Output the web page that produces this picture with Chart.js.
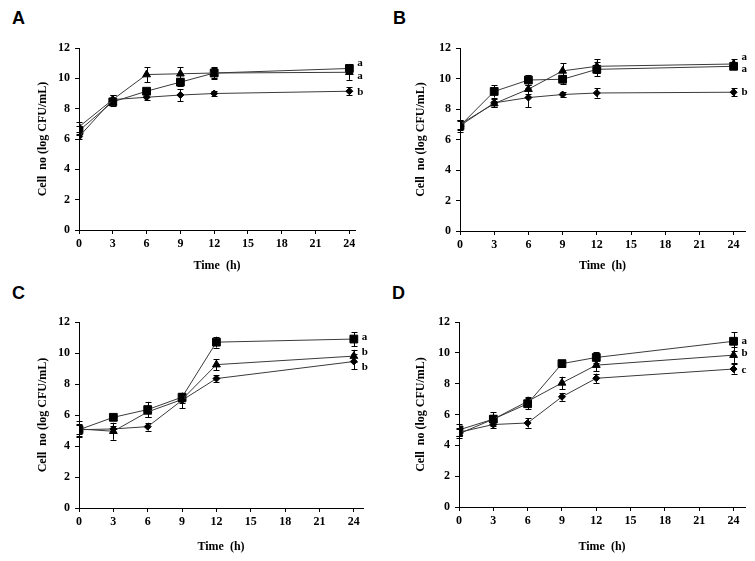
<!DOCTYPE html>
<html>
<head>
<meta charset="utf-8">
<script src="https://cdn.jsdelivr.net/npm/chart.js@4.4.1/dist/chart.umd.min.js"></script>
<style>
  body { margin: 0; background: #fff; }
  #wrap { position: relative; width: 755px; height: 561px; overflow: hidden; }
  .panel { position: absolute; }
  .tag { position: absolute; font-family: "Liberation Sans", Arial, sans-serif; font-weight: bold; font-size: 18px; color: #000; }
</style>
</head>
<body>
<div id="wrap">
  <div class="tag" style="left:12px;top:8px">A</div>
  <div class="tag" style="left:393px;top:8px">B</div>
  <div class="tag" style="left:12px;top:283px">C</div>
  <div class="tag" style="left:392px;top:283px">D</div>
  <canvas id="chartA" class="panel" style="left:0;top:0" width="378" height="280"></canvas>
  <canvas id="chartB" class="panel" style="left:378px;top:0" width="377" height="280"></canvas>
  <canvas id="chartC" class="panel" style="left:0;top:280px" width="378" height="281"></canvas>
  <canvas id="chartD" class="panel" style="left:378px;top:280px" width="377" height="281"></canvas>
</div>
<script>
// sampling times (h)
const times = [0, 3, 6, 9, 12, 24]
const xTicks = [0, 3, 6, 9, 12, 15, 18, 21, 24]

// panel A
const aSquare = [6.55, 8.45, 9.15, 9.75, 10.35, 10.65]
const aSquareErr = [0.3, 0.25, 0.2, 0.25, 0.3, 0.3]
const aTriangle = [6.8, 8.6, 10.25, 10.3, 10.35, 10.4]
const aTriangleErr = [0.35, 0.3, 0.5, 0.45, 0.4, 0.5]
const aDiamond = [6.15, 8.6, 8.75, 8.9, 9.0, 9.15]
const aDiamondErr = [0.15, 0.3, 0.2, 0.4, 0.15, 0.25]
const aLetters = ["a", "a", "b"]
const aLetterY = [11.0, 10.15, 9.1]

// panel B
const bSquare = [6.9, 9.15, 9.9, 9.95, 10.6, 10.8]
const bSquareErr = [0.3, 0.4, 0.3, 0.3, 0.45, 0.2]
const bTriangle = [7.0, 8.35, 9.3, 10.5, 10.8, 10.95]
const bTriangleErr = [0.3, 0.2, 0.3, 0.5, 0.45, 0.3]
const bDiamond = [6.9, 8.4, 8.75, 8.95, 9.05, 9.1]
const bDiamondErr = [0.4, 0.25, 0.65, 0.15, 0.3, 0.25]
const bLetters = ["a", "a", "b"]
const bLetterY = [11.4, 10.6, 9.1]

// panel C
const cSquare = [5.05, 5.85, 6.35, 7.15, 10.7, 10.9]
const cSquareErr = [0.3, 0.2, 0.5, 0.25, 0.35, 0.45]
const cTriangle = [5.1, 4.95, 6.2, 7.0, 9.25, 9.8]
const cTriangleErr = [0.5, 0.55, 0.3, 0.25, 0.35, 0.4]
const cDiamond = [5.05, 5.1, 5.25, 6.95, 8.35, 9.45]
const cDiamondErr = [0.4, 0.2, 0.25, 0.5, 0.2, 0.5]
const cLetters = ["a", "b", "b"]
const cLetterY = [11.0, 10.05, 9.1]

// panel D
const dSquare = [5.0, 5.7, 6.7, 9.3, 9.7, 10.75]
const dSquareErr = [0.4, 0.45, 0.35, 0.2, 0.35, 0.6]
const dTriangle = [4.75, 5.7, 6.85, 8.05, 9.2, 9.85]
const dTriangleErr = [0.3, 0.3, 0.3, 0.4, 0.4, 0.5]
const dDiamond = [4.85, 5.35, 5.45, 7.15, 8.35, 8.95]
const dDiamondErr = [0.25, 0.2, 0.3, 0.25, 0.3, 0.3]
const dLetters = ["a", "b", "c"]
const dLetterY = [10.75, 9.95, 8.9]

const serif = "'Liberation Serif', 'Times New Roman', serif"

// error bars drawn under the markers
const errorBars = {
  id: "errorBars",
  beforeDatasetsDraw(chart) {
    const { ctx, scales } = chart
    ctx.save()
    ctx.strokeStyle = "#000"
    ctx.lineWidth = 1
    chart.data.datasets.forEach((ds) => {
      ds.data.forEach((p, i) => {
        const e = ds.errors[i]
        const x = Math.round(scales.x.getPixelForValue(p.x)) + 0.5
        const y1 = scales.y.getPixelForValue(p.y + e)
        const y2 = scales.y.getPixelForValue(p.y - e)
        ctx.beginPath()
        ctx.moveTo(x, y1)
        ctx.lineTo(x, y2)
        ctx.moveTo(x - 3, Math.round(y1) + 0.5)
        ctx.lineTo(x + 3, Math.round(y1) + 0.5)
        ctx.moveTo(x - 3, Math.round(y2) + 0.5)
        ctx.lineTo(x + 3, Math.round(y2) + 0.5)
        ctx.stroke()
      })
    })
    ctx.restore()
  },
}

// significance letters right of the last point
const endLetters = {
  id: "endLetters",
  afterDatasetsDraw(chart, args, opts) {
    const { ctx, scales } = chart
    ctx.save()
    ctx.fillStyle = "#000"
    ctx.font = "bold 11px " + serif
    ctx.textAlign = "left"
    ctx.textBaseline = "middle"
    const x = scales.x.getPixelForValue(24) + 8
    opts.letters.forEach((t, i) => {
      ctx.fillText(t, x, scales.y.getPixelForValue(opts.ys[i]))
    })
    ctx.restore()
  },
}

function toPoints(values) {
  return values.map((v, i) => ({ x: times[i], y: v }))
}

function series(values, errors, shape, radius) {
  return {
    data: toPoints(values),
    errors: errors,
    showLine: true,
    borderColor: "#3a3a3a",
    borderWidth: 1,
    pointStyle: shape,
    pointRadius: radius,
    pointBackgroundColor: "#000",
    pointBorderColor: "#000",
    pointBorderWidth: 1,
  }
}

function makePanel(id, box, xMax, sets, letters, letterY) {
  const canvas = document.getElementById(id)
  const W = canvas.width
  const H = canvas.height
  new Chart(canvas, {
    type: "scatter",
    data: {
      datasets: [
        series(sets[2], sets[5], "rectRot", 3.5),
        series(sets[1], sets[4], "triangle", 4.5),
        series(sets[0], sets[3], "rect", 5.5),
      ],
    },
    options: {
      responsive: false,
      animation: false,
      layout: { padding: { left: 0, top: box.top, right: W - box.right, bottom: 0 } },
      plugins: {
        legend: { display: false },
        tooltip: { enabled: false },
        endLetters: { letters: letters, ys: letterY },
      },
      scales: {
        x: {
          type: "linear",
          min: 0,
          max: xMax,
          afterBuildTicks: (scale) => {
            scale.ticks = xTicks.map((v) => ({ value: v }))
          },
          afterFit: (scale) => {
            scale.height = H - box.bottom
          },
          grid: { drawOnChartArea: false, tickLength: 4, color: "#000" },
          border: { color: "#000", width: 1 },
          ticks: { color: "#000", font: { family: serif, size: 12, weight: "bold" }, maxRotation: 0, padding: 3 },
          title: {
            display: true,
            text: "Time  (h)",
            color: "#000",
            font: { family: serif, size: 12, weight: "bold" },
            padding: { top: 0, bottom: 7 },
          },
        },
        y: {
          min: 0,
          max: 12,
          afterFit: (scale) => {
            scale.width = box.left
          },
          grid: { drawOnChartArea: false, tickLength: 4, color: "#000" },
          border: { color: "#000", width: 1 },
          ticks: { stepSize: 2, color: "#000", font: { family: serif, size: 12, weight: "bold" }, padding: 5 },
          title: {
            display: true,
            text: "Cell  no (log CFU/mL)",
            color: "#000",
            font: { family: serif, size: 12, weight: "bold" },
            padding: { top: 36, bottom: 0 },
          },
        },
      },
    },
    plugins: [errorBars, endLetters],
  })
}

makePanel("chartA", { left: 79, top: 48, right: 355, bottom: 230 }, 24.5,
  [aSquare, aTriangle, aDiamond, aSquareErr, aTriangleErr, aDiamondErr], aLetters, aLetterY)
makePanel("chartB", { left: 82, top: 48, right: 367, bottom: 231 }, 25,
  [bSquare, bTriangle, bDiamond, bSquareErr, bTriangleErr, bDiamondErr], bLetters, bLetterY)
makePanel("chartC", { left: 79, top: 42, right: 363, bottom: 228 }, 24.8,
  [cSquare, cTriangle, cDiamond, cSquareErr, cTriangleErr, cDiamondErr], cLetters, cLetterY)
makePanel("chartD", { left: 81, top: 42, right: 367, bottom: 227 }, 25,
  [dSquare, dTriangle, dDiamond, dSquareErr, dTriangleErr, dDiamondErr], dLetters, dLetterY)
</script>
</body>
</html>
